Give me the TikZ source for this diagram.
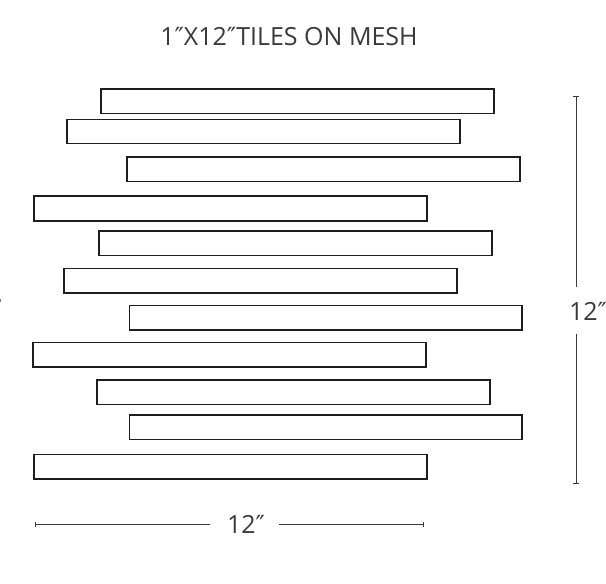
\documentclass[tikz,border=0pt]{standalone}
\usepackage{fontspec}
\setmainfont{Open Sans}
\newfontfamily\primefont{DejaVu Sans}
\definecolor{tileline}{HTML}{1E1E1E}
\definecolor{txtgray}{HTML}{3A3A3A}
\newcommand{\dprime}{{\primefont\char"2033}}
\begin{document}
\begin{tikzpicture}[x=1pt,y=-1pt,
  tile/.style={draw=tileline,line width=1.1pt,fill=white},
  dimline/.style={draw=txtgray,line width=1pt},
  lbl/.style={text=txtgray,font=\fontsize{25}{28}\selectfont,inner sep=0pt}]
\useasboundingbox (0,0) rectangle (606,584);
% title
\node[lbl] (title) at (289,37) {1\dprime X12\dprime TILES ON MESH};
% tiles
\foreach \n/\xa/\ya/\xb/\yb in {
 t1/101/89/494/113.5,
 t2/67/119.5/460/143.5,
 t3/127/157/520/181.5,
 t4/34/196/427/221,
 t5/99/231/492/255.5,
 t6/64/268.5/457/293,
 t7/129.5/305.5/522/330,
 t8/33/342.5/426/367,
 t9/97/380/490/404.5,
 t10/129.5/415/522/439.5,
 t11/34/454.5/427/479}{
 \draw[tile] (\xa,\ya) rectangle (\xb,\yb);
 \coordinate (\n) at (\xa,\ya);
}
% vertical dimension
\node[lbl] (vlab) at (588,311) {12\dprime};
\coordinate (vt) at (576,96);
\coordinate (vb) at (576,483);
\coordinate (vg1) at (576,287);
\coordinate (vg2) at (576,334);
\draw[dimline] (vt) -- (vg1);
\draw[dimline] (vg2) -- (vb);
\draw[dimline] ([xshift=-3]vt) -- ([xshift=3]vt);
\draw[dimline] ([xshift=-3]vb) -- ([xshift=3]vb);
% horizontal dimension
\node[lbl] (hlab) at (246,524) {12\dprime};
\coordinate (hl) at (35,524);
\coordinate (hr) at (423,524);
\coordinate (hg1) at (210,524);
\coordinate (hg2) at (279,524);
\draw[dimline] (hl) -- (hg1);
\draw[dimline] (hg2) -- (hr);
\draw[dimline] ([yshift=-2.5]hl) -- ([yshift=2.5]hl);
\draw[dimline] ([yshift=-2.5]hr) -- ([yshift=2.5]hr);
% small edge mark
\fill[gray] (0,298.5) rectangle (1.2,302);
\end{tikzpicture}
\end{document}
